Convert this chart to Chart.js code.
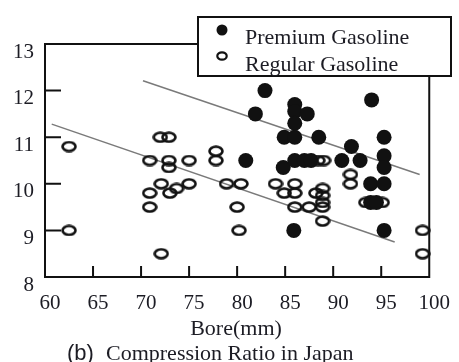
<!DOCTYPE html>
<html>
<head>
<meta charset="utf-8">
<script src="https://cdn.jsdelivr.net/npm/chart.js@4.4.0/dist/chart.umd.min.js"></script>
<style>
html, body { margin: 0; padding: 0; background: #fff; }
canvas { display: block; }
</style>
</head>
<body>
<canvas id="boreChart" width="459" height="362"></canvas>
<script>
// data
var seriesNames = ["Premium Gasoline", "Regular Gasoline"];

var premiumBore = [82.9, 81.9, 86.0, 86.0, 87.3, 86.0, 84.9, 86.0, 88.5, 94.0, 91.9, 95.3, 80.9, 84.8, 86.0, 87.0, 87.7, 90.9, 92.8, 95.3, 95.3, 93.9, 95.3, 93.9, 94.5, 85.9, 95.3];
var premiumRatio = [12.0, 11.5, 11.7, 11.55, 11.5, 11.3, 11.0, 11.0, 11.0, 11.8, 10.8, 11.0, 10.5, 10.35, 10.5, 10.5, 10.5, 10.5, 10.5, 10.6, 10.35, 10.0, 10.0, 9.6, 9.6, 9.0, 9.0];

var regularBore = [62.5, 62.5, 72.0, 72.9, 70.9, 72.9, 72.9, 75.0, 72.1, 70.9, 73.0, 73.7, 75.0, 70.9, 72.1, 77.8, 77.8, 78.9, 80.4, 80.0, 80.2, 84.0, 84.9, 86.0, 86.0, 86.0, 87.5, 88.2, 88.9, 88.9, 88.9, 88.9, 88.9, 88.4, 89.0, 91.8, 91.8, 93.4, 95.1, 99.3, 99.3];
var regularRatio = [10.8, 9.0, 11.0, 11.0, 10.5, 10.5, 10.35, 10.5, 10.0, 9.8, 9.8, 9.9, 10.0, 9.5, 8.5, 10.7, 10.5, 10.0, 10.0, 9.5, 9.0, 10.0, 9.8, 10.0, 9.8, 9.5, 9.5, 9.8, 9.9, 9.75, 9.6, 9.5, 9.2, 10.5, 10.5, 10.2, 10.0, 9.6, 9.6, 9.0, 8.5];

var upperLineBore = [70.2, 99.0];
var upperLineRatio = [12.21, 10.2];
var lowerLineBore = [60.7, 96.4];
var lowerLineRatio = [11.28, 8.75];

var xTicks = [60, 65, 70, 75, 80, 85, 90, 95, 100];
var yTicks = [8, 9, 10, 11, 12, 13];

var xTitle = "Bore(mm)";
var captionTag = "(b)";
var captionText = "Compression Ratio in Japan";

function toPoints(xs, ys) {
    return xs.map(function (x, i) {
        return { x: x, y: ys[i] };
    });
}

function makeOval(w, h, lw) {
    var c = document.createElement("canvas");
    c.width = w;
    c.height = h;
    var g = c.getContext("2d");
    g.lineWidth = lw;
    g.strokeStyle = "#111";
    g.beginPath();
    g.ellipse(w / 2, h / 2, w / 2 - lw / 2 - 0.2, h / 2 - lw / 2 - 0.2, 0, 0, Math.PI * 2);
    g.stroke();
    return c;
}

var oval = makeOval(16, 12, 2.6);
var smallOval = makeOval(12, 10, 2.2);

var serif = "'Liberation Serif', 'Times New Roman', serif";
var inkColor = "#1c1c24";

// frame, inward ticks, legend box and captions
var decorPlugin = {
    id: "decor",
    afterDatasetsDraw: function (chart) {
        var ctx = chart.ctx;
        var a = chart.chartArea;
        var xs = chart.scales.x;
        var ys = chart.scales.y;
        var box = { left: 198, top: 17, right: 451, bottom: 76 };

        ctx.save();
        ctx.strokeStyle = "#111";
        ctx.lineWidth = 2;
        ctx.beginPath();
        ctx.moveTo(box.left, a.top);
        ctx.lineTo(a.left, a.top);
        ctx.lineTo(a.left, a.bottom);
        ctx.lineTo(a.right, a.bottom);
        ctx.lineTo(a.right, box.bottom);
        ctx.stroke();

        ctx.beginPath();
        yTicks.slice(1, -1).forEach(function (v) {
            var py = ys.getPixelForValue(v);
            ctx.moveTo(a.left, py);
            ctx.lineTo(a.left + 16, py);
        });
        xTicks.slice(1, -1).forEach(function (v) {
            var px = xs.getPixelForValue(v);
            ctx.moveTo(px, a.bottom);
            ctx.lineTo(px, a.bottom - 11);
        });
        ctx.stroke();

        // legend
        ctx.fillStyle = "#fff";
        ctx.fillRect(box.left, box.top, box.right - box.left, box.bottom - box.top);
        ctx.strokeRect(box.left, box.top, box.right - box.left, box.bottom - box.top);

        ctx.fillStyle = "#111";
        ctx.beginPath();
        ctx.arc(222, 30, 5.5, 0, Math.PI * 2);
        ctx.fill();
        ctx.drawImage(smallOval, 222 - smallOval.width / 2, 56 - smallOval.height / 2);

        ctx.fillStyle = inkColor;
        ctx.font = "22px " + serif;
        ctx.textAlign = "left";
        ctx.textBaseline = "alphabetic";
        ctx.fillText(chart.data.datasets[0].label, 245, 44);
        ctx.fillText(chart.data.datasets[1].label, 245, 71);

        // axis title and caption
        ctx.textAlign = "center";
        ctx.fillText(xTitle, 236, 335);
        ctx.textAlign = "left";
        ctx.fillText(captionText, 106, 360);
        ctx.font = "22px 'Liberation Sans', Arial, sans-serif";
        ctx.fillText(captionTag, 67, 360);
        ctx.restore();
    }
};

new Chart(document.getElementById("boreChart"), {
    type: "scatter",
    data: {
        datasets: [{
            label: seriesNames[0],
            data: toPoints(premiumBore, premiumRatio),
            pointStyle: "circle",
            pointRadius: 7.5,
            pointHoverRadius: 7.5,
            backgroundColor: "#111",
            borderColor: "#111",
            borderWidth: 0,
            order: 1
        }, {
            label: seriesNames[1],
            data: toPoints(regularBore, regularRatio),
            pointStyle: oval,
            pointRadius: 7,
            order: 2
        }, {
            label: "upper trend",
            data: toPoints(upperLineBore, upperLineRatio),
            showLine: true,
            pointRadius: 0,
            borderColor: "#7a7a7a",
            borderWidth: 1.5,
            order: 3
        }, {
            label: "lower trend",
            data: toPoints(lowerLineBore, lowerLineRatio),
            showLine: true,
            pointRadius: 0,
            borderColor: "#7a7a7a",
            borderWidth: 1.5,
            order: 3
        }]
    },
    options: {
        responsive: false,
        animation: false,
        devicePixelRatio: 1,
        clip: false,
        layout: {
            padding: { top: 44, right: 23, left: 0, bottom: 0 }
        },
        plugins: {
            legend: { display: false },
            tooltip: { enabled: false }
        },
        scales: {
            x: {
                type: "linear",
                min: 60,
                max: 100,
                afterBuildTicks: function (scale) {
                    scale.ticks = xTicks.map(function (v) { return { value: v }; });
                },
                afterFit: function (scale) {
                    scale.height = 85;
                },
                grid: { display: false, drawTicks: false },
                border: { display: false },
                ticks: {
                    padding: 14,
                    labelOffset: 5,
                    maxRotation: 0,
                    autoSkip: false,
                    color: inkColor,
                    font: { family: serif, size: 21 }
                }
            },
            y: {
                type: "linear",
                min: 8,
                max: 13,
                afterBuildTicks: function (scale) {
                    scale.ticks = yTicks.map(function (v) { return { value: v }; });
                },
                afterFit: function (scale) {
                    scale.width = 45;
                },
                grid: { display: false, drawTicks: false },
                border: { display: false },
                ticks: {
                    padding: 11,
                    labelOffset: 8,
                    autoSkip: false,
                    color: inkColor,
                    font: { family: serif, size: 21 }
                }
            }
        }
    },
    plugins: [decorPlugin]
});
</script>
</body>
</html>
